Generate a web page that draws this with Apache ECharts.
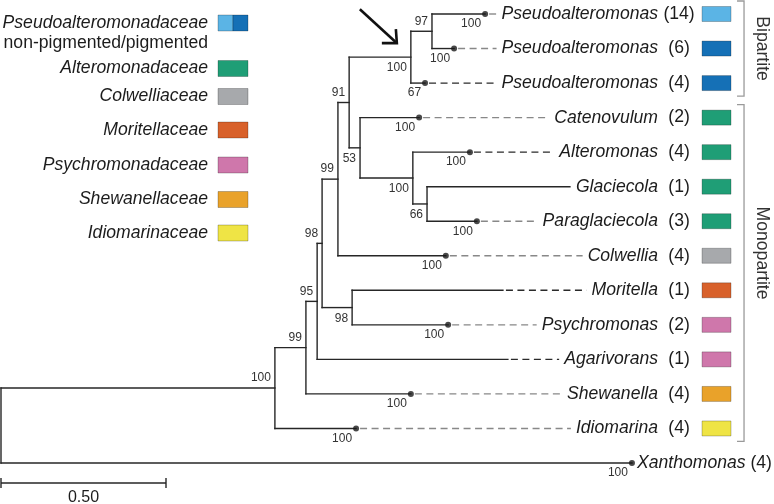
<!DOCTYPE html>
<html><head><meta charset="utf-8">
<script src="https://cdn.jsdelivr.net/npm/echarts@6/dist/echarts.min.js"></script>
<style>html,body{margin:0;padding:0;background:#fff}#c{width:774px;height:504px}</style>
</head><body><div id="c"></div>
<script>
// ---------------- DATA ----------------
// Leaves (top to bottom)
const leafNames = ['Pseudoalteromonas','Pseudoalteromonas','Pseudoalteromonas','Catenovulum','Alteromonas','Glaciecola','Paraglaciecola','Colwellia','Moritella','Psychromonas','Agarivorans','Shewanella','Idiomarina','Xanthomonas'];
const leafCounts = [14,6,4,2,4,1,3,4,1,2,1,4,4,4];
const leafParent = ['n97','n97','nPseudo','n53','nAlt','n66','n66','n99a','n98b','n98b','n95','n99b','ingroup','root'];
const leafDepth = [1.467,1.373,1.285,1.267,1.421,1.724,1.442,1.348,1.521,1.355,1.536,1.242,1.076,1.912];
const leafSupport = [100,100,67,100,100,null,100,100,null,100,null,100,100,100];
const leafFamily = ['nonpig','pig','pig','Alteromonadaceae','Alteromonadaceae','Alteromonadaceae','Alteromonadaceae','Colwelliaceae','Moritellaceae','Psychromonadaceae','Psychromonadaceae','Shewanellaceae','Idiomarinaceae',null];
// Internal nodes
const nodeIds = ['root','ingroup','n99b','n95','n98a','n99a','n91','nPseudo','n97','n53','nAlt','n66','n98b'];
const nodeParent = [null,'root','ingroup','n99b','n95','n98a','n99a','n91','nPseudo','n91','n53','nAlt','n98a'];
const nodeDepth = [0,0.830,0.924,0.958,0.973,1.021,1.055,1.242,1.306,1.088,1.248,1.291,1.064];
const nodeSupport = [null,100,99,95,98,99,91,100,97,53,100,66,98];
const arrowNode = 'nPseudo';
// Legend / groups / scale
const familyNames = ['Pseudoalteromonadaceae','Alteromonadaceae','Colwelliaceae','Moritellaceae','Psychromonadaceae','Shewanellaceae','Idiomarinaceae'];
const pseudoSubtitle = 'non-pigmented/pigmented';
const groupNames = ['Bipartite','Monopartite'];
const groupFirstLeaf = [0,3];
const groupLastLeaf = [2,12];
const scaleBarLength = 0.5;
const scaleBarLabel = '0.50';

// ---------------- STYLE / LAYOUT ----------------
const FONT = '"Liberation Sans", Arial, Helvetica, sans-serif';
const colors = {
  nonpig:'#5BB4E5', pig:'#1570B6', Alteromonadaceae:'#1F9E76', Colwelliaceae:'#A7A9AC',
  Moritellaceae:'#D8612B', Psychromonadaceae:'#CF77AB', Shewanellaceae:'#E9A22A', Idiomarinaceae:'#EFE445'
};
const familyColorKeys = [['nonpig','pig'],['Alteromonadaceae'],['Colwelliaceae'],['Moritellaceae'],['Psychromonadaceae'],['Shewanellaceae'],['Idiomarinaceae']];
const legendY = [23, 68.5, 96.5, 130, 165, 199.5, 233];
const leafDashColor = ['#888888','#888888','#2a2a2a','#888888','#2a2a2a',null,'#888888','#888888','#2a2a2a','#888888','#2a2a2a','#888888','#888888',null];
const nodeLabelPos = ['','above','above','above','above','above','above','below','above','below','below','below','below'];
const LABEL_COL = 1.991;
const LINE = '#262626';
const TXT = '#1c1c1c';

const mctx = document.createElement('canvas').getContext('2d');
function textW(t, f){ mctx.font = f; return mctx.measureText(t).width; }
const F_ITAL = 'italic 17.6px ' + FONT;
const F_NORM = '17.6px ' + FONT;
const F_SUP = '12px ' + FONT;

// ---------------- TREE STRUCTURE ----------------
const nodeIndex = {}; nodeIds.forEach((id,k)=>nodeIndex[id]=k);
const children = nodeIds.map(()=>[]);
nodeParent.forEach((p,k)=>{ if(p) children[nodeIndex[p]].push({t:'n',k}); });
leafParent.forEach((p,i)=>children[nodeIndex[p]].push({t:'l',k:i}));
const nodeY = [];
function yOf(c){ return c.t==='l' ? c.k : nodeYf(c.k); }
function nodeYf(k){
  if(nodeY[k]!==undefined) return nodeY[k];
  const ys = children[k].map(yOf);
  nodeY[k] = ys.reduce((a,b)=>a+b,0)/ys.length;
  return nodeY[k];
}
nodeIds.forEach((id,k)=>nodeYf(k));

const branchSegs = [];
nodeIds.forEach((id,k)=>{
  const ys = children[k].map(yOf);
  branchSegs.push([nodeDepth[k], Math.min(...ys), nodeDepth[k], Math.max(...ys)]);
  children[k].forEach(c=>{
    const d = c.t==='l' ? leafDepth[c.k] : nodeDepth[c.k];
    branchSegs.push([nodeDepth[k], yOf(c), d, yOf(c)]);
  });
});

const supportData = [];
nodeIds.forEach((id,k)=>{ if(nodeSupport[k]!=null) supportData.push([nodeDepth[k], nodeY[k], nodeSupport[k], nodeLabelPos[k]==='above'?-10:11]); });
leafNames.forEach((n,i)=>{ if(leafSupport[i]!=null) supportData.push([leafDepth[i], i, leafSupport[i], 10]); });

const dotData = [];
leafNames.forEach((n,i)=>{ if(leafSupport[i]!=null) dotData.push([leafDepth[i], i]); });

// ---------------- CHART ----------------
const chart = echarts.init(document.getElementById('c'), null, {renderer:'canvas'});

const legendGraphics = [];
familyNames.forEach((name,f)=>{
  const y = legendY[f];
  legendGraphics.push({type:'text', x:208, y:y, style:{text:name, font:F_ITAL, fill:TXT, textAlign:'right', textVerticalAlign:'middle'}});
  const keys = familyColorKeys[f];
  const bw = 30 / keys.length;
  keys.forEach((key,j)=>{
    legendGraphics.push({type:'rect', shape:{x:218 + j*bw, y:y-8, width:bw, height:16}, style:{fill:colors[key], stroke:'rgba(0,0,0,0.3)', lineWidth:0.8}});
  });
  if (f===0) legendGraphics.push({type:'text', x:208, y:y+20.5, style:{text:pseudoSubtitle, font:F_NORM, fill:TXT, textAlign:'right', textVerticalAlign:'middle'}});
});

const option = {
  animation:false,
  backgroundColor:'#fff',
  grid:{left:1, top:14, width:660, height:449},
  xAxis:{type:'value', min:0, max:2, show:false},
  yAxis:{type:'value', min:0, max:13, inverse:true, show:false},
  graphic: legendGraphics,
  series:[
    { // branches
      type:'custom', data:branchSegs, encode:{x:[0,2], y:[1,3]}, silent:true,
      renderItem(params, api){
        const a = api.coord([api.value(0), api.value(1)]);
        const b = api.coord([api.value(2), api.value(3)]);
        return {type:'line', shape:{x1:a[0], y1:a[1], x2:b[0], y2:b[1]}, style:{stroke:LINE, fill:'none', lineWidth:1.4, lineCap:'square'}};
      }
    },
    { // leaf labels, dashed extensions, colour boxes
      type:'custom', data:leafNames.map((n,i)=>[leafDepth[i], i, i]), encode:{x:0, y:1}, silent:true,
      renderItem(params, api){
        const i = api.value(2);
        const p = api.coord([leafDepth[i], i]);
        const els = [];
        const name = leafNames[i];
        const cnt = '(' + leafCounts[i] + ')';
        if (leafParent[i]==='root') {
          const x0 = p[0] + 5;
          els.push({type:'text', x:x0, y:p[1], style:{text:name, font:F_ITAL, fill:TXT, textAlign:'left', textVerticalAlign:'middle'}});
          els.push({type:'text', x:x0 + textW(name + ' ', F_ITAL), y:p[1], style:{text:cnt, font:F_NORM, fill:TXT, textAlign:'left', textVerticalAlign:'middle'}});
        } else {
          const colX = api.coord([LABEL_COL, i])[0];
          const w = textW(name, F_ITAL);
          els.push({type:'text', x:colX, y:p[1], style:{text:name, font:F_ITAL, fill:TXT, textAlign:'right', textVerticalAlign:'middle'}});
          els.push({type:'text', x:colX + 21, y:p[1], style:{text:cnt, font:F_NORM, fill:TXT, textAlign:'center', textVerticalAlign:'middle'}});
          const key = leafFamily[i];
          if (key) els.push({type:'rect', shape:{x:colX + 44, y:p[1] - 7.5, width:29, height:15}, style:{fill:colors[key], stroke:'rgba(0,0,0,0.3)', lineWidth:0.8}});
          if (leafDashColor[i]) {
            const x1 = p[0] + (leafSupport[i]!=null ? 4 : 3);
            const x2 = colX - w - 5;
            els.push({type:'line', shape:{x1:x1, y1:p[1], x2:x2, y2:p[1]}, style:{stroke:leafDashColor[i], fill:'none', lineWidth:1.4, lineDash:[7,4.5]}});
          }
        }
        return {type:'group', children:els};
      }
    },
    { // node dots
      type:'scatter', data:dotData, symbol:'circle', symbolSize:6, clip:false, silent:true,
      itemStyle:{color:'#1a1a1a'}
    },
    { // support values
      type:'custom', data:supportData, encode:{x:0, y:1}, silent:true,
      renderItem(params, api){
        const p = api.coord([api.value(0), api.value(1)]);
        return {type:'text', x:p[0] - 4, y:p[1] + api.value(3), style:{text:String(api.value(2)), font:F_SUP, fill:'#333', textAlign:'right', textVerticalAlign:'middle'}};
      }
    },
    { // group brackets
      type:'custom', data:groupNames.map((g,k)=>[LABEL_COL, groupFirstLeaf[k], k]), encode:{x:0, y:1}, silent:true,
      renderItem(params, api){
        const k = api.value(2);
        const colX = api.coord([LABEL_COL, 0])[0];
        const bx = colX + 86;
        const y1 = api.coord([0, groupFirstLeaf[k]])[1] - 13;
        const y2 = api.coord([0, groupLastLeaf[k]])[1] + 13;
        const ly = k===0 ? (y1 + y2) / 2 : (y1 + y2) / 2 - 20;
        const st = {stroke:'#9a9a9a', fill:'none', lineWidth:1.3};
        return {type:'group', children:[
          {type:'polyline', shape:{points:[[bx-7, y1],[bx, y1],[bx, y2],[bx-7, y2]]}, style:st},
          {type:'text', x:bx + 18, y:ly, rotation:-Math.PI/2, style:{text:groupNames[k], font:F_NORM, fill:'#333', textAlign:'center', textVerticalAlign:'middle'}}
        ]};
      }
    },
    { // scale bar
      type:'custom', data:[[0, leafNames.length - 1]], encode:{x:0, y:1}, silent:true,
      renderItem(params, api){
        const a = api.coord([0, api.value(1)]);
        const b = api.coord([scaleBarLength, api.value(1)]);
        const y = a[1] + 20;
        const st = {stroke:LINE, fill:'none', lineWidth:1.4};
        return {type:'group', children:[
          {type:'line', shape:{x1:a[0], y1:y, x2:b[0], y2:y}, style:st},
          {type:'line', shape:{x1:a[0], y1:y-5, x2:a[0], y2:y+5}, style:st},
          {type:'line', shape:{x1:b[0], y1:y-5, x2:b[0], y2:y+5}, style:st},
          {type:'text', x:(a[0]+b[0])/2, y:y+15, style:{text:scaleBarLabel, font:'16px ' + FONT, fill:TXT, textAlign:'center', textVerticalAlign:'middle'}}
        ]};
      }
    },
    { // arrow marking the bipartite clade
      type:'custom', data:[[nodeDepth[nodeIndex[arrowNode]], nodeY[nodeIndex[arrowNode]]]], encode:{x:0, y:1}, silent:true,
      renderItem(params, api){
        const p = api.coord([api.value(0), api.value(1)]);
        const tx = p[0] - 14, ty = p[1] - 14;
        const st = {stroke:'#111', fill:'none', lineWidth:2.6, lineJoin:'miter'};
        return {type:'group', children:[
          {type:'line', shape:{x1:tx - 37, y1:ty - 34, x2:tx - 1, y2:ty - 1}, style:st},
          {type:'polyline', shape:{points:[[tx - 15, ty], [tx, ty], [tx - 1, ty - 14]]}, style:st}
        ]};
      }
    }
  ]
};
chart.setOption(option);
</script>
</body></html>
